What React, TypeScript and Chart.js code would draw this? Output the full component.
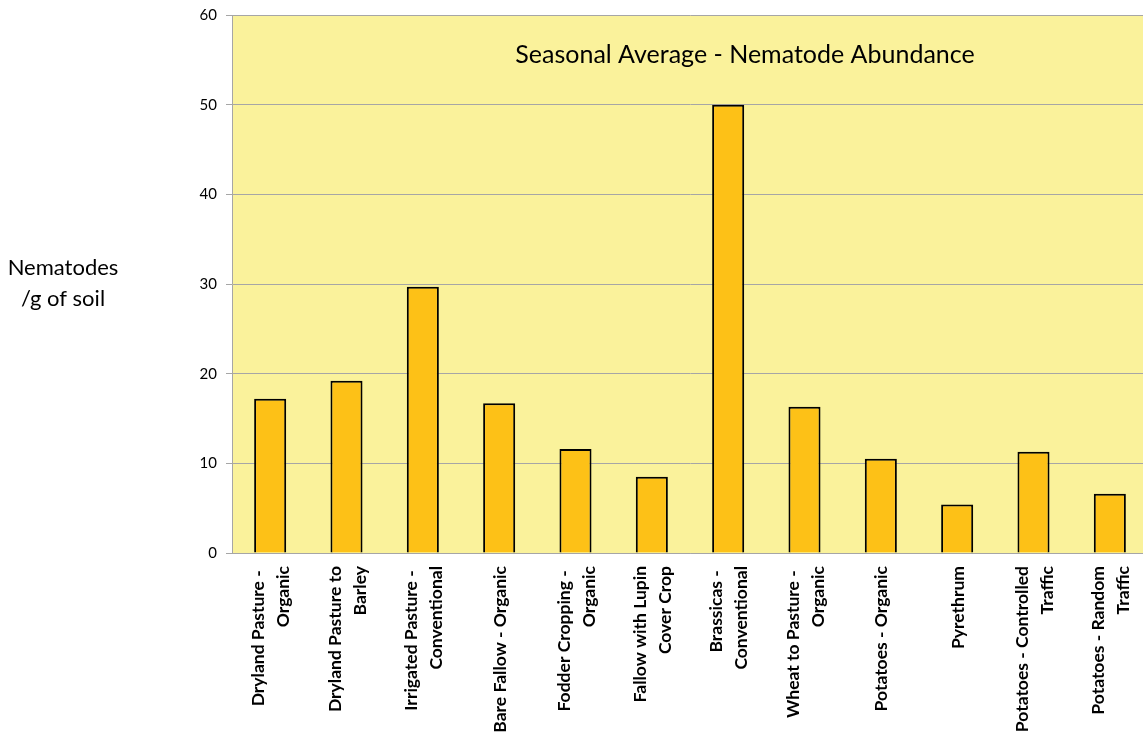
import React, { useEffect, useRef } from "react";
import { Chart, registerables } from "chart.js";
Chart.register(...registerables);

const categories: string[][] = [
  ["Dryland Pasture - ", "Organic"],
  ["Dryland Pasture to", "Barley"],
  ["Irrigated Pasture - ", "Conventional"],
  ["Bare Fallow - Organic"],
  ["Fodder Cropping - ", "Organic"],
  ["Fallow with Lupin", "Cover Crop"],
  ["Brassicas - ", "Conventional"],
  ["Wheat to Pasture - ", "Organic"],
  ["Potatoes - Organic"],
  ["Pyrethrum"],
  ["Potatoes - Controlled", "Traffic"],
  ["Potatoes - Random", "Traffic"],
];
const values: number[] = [17.2, 19.2, 29.7, 16.7, 11.6, 8.5, 50.0, 16.3, 10.5, 5.4, 11.3, 6.6];
const yMin = 0;
const yMax = 60;
const yStep = 10;
const chartTitle = "Seasonal Average - Nematode Abundance";
const yTitleLines = ["Nematodes", "/g of soil"];

const FONT = "Lato, 'Open Sans', sans-serif";

export default function App() {
  const ref = useRef<HTMLCanvasElement | null>(null);
  useEffect(() => {
    if (!ref.current) return;
    const plugin = {
      id: "custom",
      beforeDraw(chart: any) {
        const { ctx, chartArea } = chart;
        ctx.save();
        ctx.fillStyle = "#FAF29B";
        ctx.fillRect(chartArea.left, chartArea.top, chartArea.right - chartArea.left, chartArea.bottom - chartArea.top);
        ctx.restore();
      },
      afterDraw(chart: any) {
        const { ctx, chartArea } = chart;
        const xs = chart.scales.x;
        ctx.save();
        ctx.fillStyle = "#000";
        // x labels
        ctx.font = `bold 17.5px ${FONT}`;
        ctx.textAlign = "right";
        ctx.textBaseline = "middle";
        const lineH = 25;
        categories.forEach((lines, i) => {
          const x = xs.getPixelForValue(i);
          const n = lines.length;
          lines.forEach((line, j) => {
            const off = (j - (n - 1) / 2) * lineH + 1;
            ctx.save();
            ctx.translate(x + off, chartArea.bottom + 13);
            ctx.rotate(-Math.PI / 2);
            ctx.fillText(line, 0, 0);
            ctx.restore();
          });
        });
        // title
        ctx.font = `25px ${FONT}`;
        ctx.textAlign = "center";
        ctx.textBaseline = "middle";
        ctx.fillText(chartTitle, 745, 55);
        // y title
        ctx.font = `22px ${FONT}`;
        yTitleLines.forEach((t, j) => {
          ctx.fillText(t, 63, 268 + j * 31);
        });
        ctx.restore();
      },
    };
    const chart = new Chart(ref.current, {
      type: "bar",
      data: {
        labels: categories.map((c) => c.join(" ")),
        datasets: [
          {
            data: values,
            backgroundColor: "#FDC117",
            borderColor: "#000000",
            borderWidth: 2,
            categoryPercentage: 1,
            barPercentage: 0.42,
          },
        ],
      },
      options: {
        responsive: false,
        animation: false,
        devicePixelRatio: 1,
        layout: { padding: { left: 172, top: 15, right: 0, bottom: 0 } },
        plugins: { legend: { display: false }, tooltip: { enabled: false }, title: { display: false } },
        scales: {
          x: {
            grid: { display: false },
            border: { display: true, color: "#A6A6A6", width: 1 },
            ticks: { display: false },
            afterFit: (axis: any) => {
              axis.height = 187;
              axis.paddingLeft = 0;
              axis.paddingRight = 0;
            },
          },
          y: {
            min: yMin,
            max: yMax,
            ticks: { stepSize: yStep, color: "#000", font: { family: FONT, size: 15 }, padding: 9 },
            grid: { color: "#A6A6A6", tickLength: 6, lineWidth: 1 },
            border: { display: true, color: "#A6A6A6", width: 1 },
            afterFit: (axis: any) => {
              axis.width = 60;
              axis.paddingTop = 0;
              axis.paddingBottom = 0;
            },
          },
        },
      },
      plugins: [plugin],
    });
    return () => chart.destroy();
  }, []);
  return (
    <div style={{ position: "fixed", left: 0, top: 0, width: 1143, height: 740, overflow: "hidden", background: "#fff" }}>
      <canvas ref={ref} width={1148} height={740} style={{ display: "block" }} />
    </div>
  );
}
